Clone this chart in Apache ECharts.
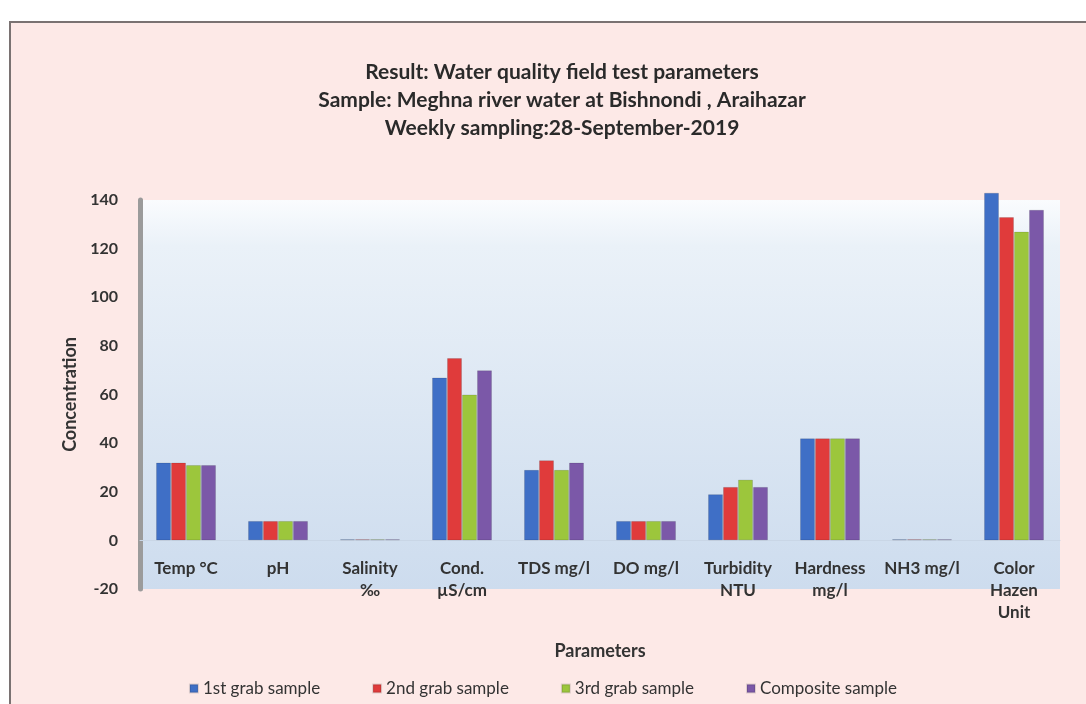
<!DOCTYPE html>
<html>
<head>
<meta charset="utf-8">
<script src="https://cdn.jsdelivr.net/npm/echarts@6/dist/echarts.min.js"></script>
<style>
  html, body { margin: 0; padding: 0; background: #ffffff; }
  #frame {
    position: absolute; left: 9px; top: 21px; width: 1077px; height: 683px;
    background: #fde9e7; border-left: 2px solid #7a7272; border-top: 2px solid #7a7272;
    box-sizing: border-box;
  }
  #chart { position: absolute; left: 0; top: 0; width: 1086px; height: 704px; }
</style>
</head>
<body>
<div id="frame"></div>
<div id="chart"></div>
<script>
// categories along the x axis
const parameters = ['Temp °C', 'pH', 'Salinity\n‰', 'Cond.\nµS/cm', 'TDS mg/l', 'DO mg/l',
  'Turbidity\nNTU', 'Hardness\nmg/l', 'NH3 mg/l', 'Color\nHazen\nUnit'];

// series values
const grab1 = [32, 8, 0.5, 67, 29, 8, 19, 42, 0.5, 143];
const grab2 = [32, 8, 0.5, 75, 33, 8, 22, 42, 0.5, 133];
const grab3 = [31, 8, 0.5, 60, 29, 8, 25, 42, 0.5, 127];
const composite = [31, 8, 0.5, 70, 32, 8, 22, 42, 0.5, 136];

const seriesNames = ['1st grab sample', '2nd grab sample', '3rd grab sample', 'Composite sample'];
const colors = ['#3f6fc6', '#e03b3b', '#9cc63c', '#7b58a8'];

const titleText = 'Result: Water quality field test parameters\n' +
  'Sample: Meghna river water at Bishnondi , Araihazar\n' +
  'Weekly sampling:28-September-2019';

const font = 'Lato, "Open Sans", sans-serif';

const chart = echarts.init(document.getElementById('chart'));

const option = {
  color: colors,
  textStyle: { fontFamily: font },
  title: {
    text: titleText,
    left: 557,
    textAlign: 'center',
    top: 53,
    textStyle: {
      fontFamily: font, fontSize: 21, fontWeight: 'bold', color: '#2a2a2a', lineHeight: 28
    }
  },
  legend: {
    top: 675,
    left: 'center',
    icon: 'rect',
    itemWidth: 8,
    itemHeight: 8,
    itemGap: 52,
    textStyle: { fontFamily: font, fontSize: 17, color: '#333' }
  },
  grid: {
    left: 140,
    right: 26,
    top: 200,
    height: 389,
    show: true,
    borderWidth: 0,
    backgroundColor: {
      type: 'linear', x: 0, y: 0, x2: 0, y2: 1,
      colorStops: [
        { offset: 0, color: '#fafcfe' },
        { offset: 0.12, color: '#eaf1f8' },
        { offset: 1, color: '#cddcee' }
      ]
    }
  },
  xAxis: {
    type: 'category',
    data: parameters,
    name: 'Parameters',
    nameLocation: 'middle',
    nameGap: 102,
    nameMoveOverlap: false,
    offset: -49,
    nameTextStyle: { fontFamily: font, fontSize: 18, fontWeight: 'bold', color: '#333' },
    axisLine: { onZero: false, lineStyle: { color: '#c9d6e6', width: 1 } },
    axisTick: { show: false },
    axisLabel: {
      interval: 0,
      margin: 18,
      fontFamily: font,
      fontSize: 17,
      fontWeight: 'bold',
      color: '#333',
      lineHeight: 22,
      verticalAlign: 'top'
    }
  },
  yAxis: {
    type: 'value',
    min: -20,
    max: 140,
    interval: 20,
    name: 'Concentration',
    nameLocation: 'middle',
    nameGap: 60,
    nameRotate: 90,
    nameTextStyle: { fontFamily: font, fontSize: 18, fontWeight: 'bold', color: '#333' },
    axisLine: { show: true, lineStyle: { color: '#9b9b9b', width: 5 } },
    axisTick: { show: false },
    splitLine: { show: false },
    axisLabel: { margin: 22, fontFamily: font, fontSize: 16, fontWeight: 'bold', color: '#333' }
  },
  series: [grab1, grab2, grab3, composite].map((vals, i) => ({
    name: seriesNames[i],
    type: 'bar',
    data: vals,
    barWidth: 15,
    barGap: '0%',
    clip: false,
    itemStyle: {
      borderColor: 'rgba(0,0,0,0.12)',
      borderWidth: 1
    }
  }))
};

chart.setOption(option);
</script>
</body>
</html>
